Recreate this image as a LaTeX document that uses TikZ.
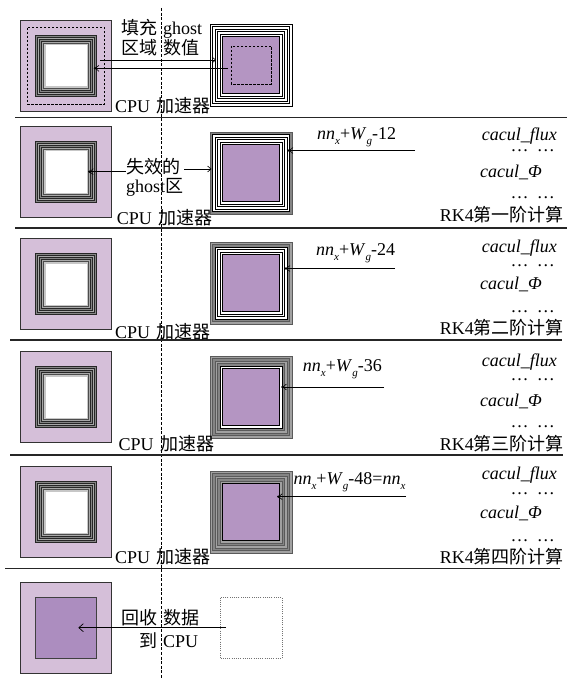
\documentclass[tikz,border=0pt]{standalone}
\usepackage{fontspec}
\setmainfont{Liberation Serif}
\newfontfamily\cjk{Noto Sans CJK SC}
\usetikzlibrary{arrows.meta}
\definecolor{cpupur}{HTML}{D5BFD9}
\definecolor{accpur}{HTML}{B495C2}
\definecolor{retpur}{HTML}{AC8DBF}
\definecolor{gdark}{HTML}{858585}
\definecolor{glight}{HTML}{A8A8A8}
\definecolor{gline}{HTML}{5A5A5A}
\tikzset{
  lbl/.style={inner sep=0pt, font=\fontsize{18}{20}\selectfont},
  dotlbl/.style={lbl, text height=2.5pt, text depth=0pt},
  panelline/.style={line width=1.3pt, black!85},
  cpubox/.style={fill=cpupur, draw=black!80, line width=0.8pt},
  ringA/.style={fill=gdark, draw=black!85, line width=0.5pt},
  ringB/.style={fill=glight, draw=black!85, line width=0.5pt},
  gringA/.style={fill=gdark, draw=gline, line width=0.4pt},
  gringB/.style={fill=glight!80!gdark, draw=gline, line width=0.4pt},
  wring/.style={fill=white, draw=black, line width=0.6pt},
  accbox/.style={fill=accpur, draw=black, line width=0.7pt},
  conn/.style={line width=0.6pt, black},
  openhead/.style={-{Straight Barb[length=3.5pt,width=6pt,line width=0.6pt]}},
  bighead/.style={-{Straight Barb[length=4.5pt,width=8pt,line width=0.7pt]}},
}
\newcommand\subx[1]{\raisebox{-5pt}{\fontsize{11}{11}\selectfont\textit{#1}}}
\newcommand\nnlab[1]{\textit{nn}\subx{x}+\textit{W}\subx{g}#1}
\newcommand\cpusq[1]{%
  \draw[cpubox] (20.5,#1-45.5) rectangle (111.5,#1+45.5);
  \foreach \h/\s in {30.5/ringA,28.5/ringB,26.5/ringA,24.5/ringB}{
    \draw[\s] (66-\h,#1-\h) rectangle (66+\h,#1+\h);}
  \draw[fill=black!22, draw=black!70, line width=0.4pt] (66-22.5,#1-22.5) rectangle (66+22.5,#1+22.5);
  \fill[white] (66-20.5,#1-20.5) rectangle (66+20.5,#1+20.5);
}
\newcommand\rkcol[7]{%
  \node[lbl,anchor=base east] (fx#7) at (557,#1) {\textit{cacul\_flux}};
  \node[dotlbl,anchor=base east] (da#7) at (555,#2) {…\hspace{0.45em}…};
  \node[lbl,anchor=base east] (ph#7) at (542,#3) {\textit{cacul\_Φ}};
  \node[dotlbl,anchor=base east] (db#7) at (555,#4) {…\hspace{0.45em}…};
  \node[lbl,anchor=base east] (rk#7) at (564,#5) {RK4{\cjk #6}};
}
\begin{document}
\begin{tikzpicture}[x=1pt,y=-1pt]
\useasboundingbox (0,0) rectangle (570,679);
\fill[white] (0,0) rectangle (570,679);

% vertical dashed divider
\coordinate (vt) at (161,8);
\coordinate (vb) at (161,679);
\draw[line width=0.8pt, dash pattern=on 3pt off 1.6pt] (vt) -- (vb);

% panel separators
\coordinate (s1a) at (15,117.5);  \coordinate (s1b) at (567,117.5);
\coordinate (s2a) at (15,228);    \coordinate (s2b) at (567,228);
\coordinate (s3a) at (10,340);    \coordinate (s3b) at (562,340);
\coordinate (s4a) at (10,455);    \coordinate (s4b) at (563,455);
\coordinate (s5a) at (5,568.5);   \coordinate (s5b) at (560,568.5);
\draw[panelline] (s1a) -- (s1b);
\draw[panelline] (s2a) -- (s2b);
\draw[panelline] (s3a) -- (s3b);
\draw[panelline] (s4a) -- (s4b);
\draw[panelline] (s5a) -- (s5b);

% ================= panel 1 =================
\cpusq{66}
\draw[line width=0.6pt, dash pattern=on 2.5pt off 1.5pt] (66-38.3,66-38.3) rectangle (66+38.3,66+38.3);
\begin{scope}[shift={(251,65)}]
  \foreach \h in {41,38.5,36,33.5,31}{\draw[wring] (-\h,-\h) rectangle (\h,\h);}
  \draw[accbox] (-28.5,-28.5) rectangle (28.5,28.5);
  \draw[line width=0.6pt, dash pattern=on 2.5pt off 1.5pt] (-20,-19) rectangle (20,19);
\end{scope}
\node[lbl,anchor=base east] (t1a) at (157.5,34.5) {\cjk 填充};
\node[lbl,anchor=base west] (t1b) at (163,34.5) {ghost};
\node[lbl,anchor=base east] (t1c) at (157.5,55) {\cjk 区域};
\node[lbl,anchor=base west] (t1d) at (163,55) {\cjk 数值};
\coordinate (a1s) at (100,60);   \coordinate (a1e) at (216,60);
\coordinate (a2s) at (228,68.3); \coordinate (a2e) at (95,68.3);
\draw[conn,openhead] (a1s) -- (a1e);
\draw[conn,openhead] (a2s) -- (a2e);
\fill (a2e) circle (1.3pt);
\node[lbl,anchor=base west] (cpu1) at (115,112.5) {CPU\hspace{6.5pt}{\cjk 加速器}};

% ================= panel 2 =================
\cpusq{172}
\begin{scope}[shift={(251,173)}]
  \draw[gringA] (-41,-41) rectangle (41,41);
  \foreach \h in {38.5,36,33.5,31}{\draw[wring] (-\h,-\h) rectangle (\h,\h);}
  \draw[accbox] (-28.5,-28.5) rectangle (28.5,28.5);
\end{scope}
\node[lbl,anchor=base west] (l2a) at (126,173) {\cjk 失效的};
\node[lbl,anchor=base west] (l2b) at (126,193) {ghost{\cjk 区}};
\coordinate (p2ls) at (125.5,171.7); \coordinate (p2le) at (89.3,171.7);
\coordinate (p2rs) at (184,169);     \coordinate (p2re) at (211.5,169);
\draw[conn,openhead] (p2ls) -- (p2le);
\fill (p2le) circle (1.3pt);
\draw[conn,openhead] (p2rs) -- (p2re);
\coordinate (n2s) at (415,150.5); \coordinate (n2e) at (289,150.5);
\draw[conn,openhead] (n2s) -- (n2e);
\fill (n2e) circle (1.3pt);
\node[lbl,anchor=base west] (nn2) at (317,140) {\nnlab{-12}};
\rkcol{140.3}{152}{178}{198.5}{221.5}{第一阶计算}{2}
\node[lbl,anchor=base west] (cpu2) at (116.7,224.5) {CPU\hspace{6.5pt}{\cjk 加速器}};

% ================= panel 3 =================
\cpusq{284}
\begin{scope}[shift={(251,283)}]
  \draw[gringB] (-41,-41) rectangle (41,41);
  \draw[gringA] (-38.5,-38.5) rectangle (38.5,38.5);
  \foreach \h in {36,33.5,31}{\draw[wring] (-\h,-\h) rectangle (\h,\h);}
  \draw[accbox] (-28.5,-28.5) rectangle (28.5,28.5);
\end{scope}
\coordinate (n3s) at (395,268.5); \coordinate (n3e) at (286,268.5);
\draw[conn,openhead] (n3s) -- (n3e);
\fill (n3e) circle (1.3pt);
\node[lbl,anchor=base west] (nn3) at (316,255) {\nnlab{-24}};
\rkcol{252.7}{266.3}{289.8}{312.5}{334.8}{第二阶计算}{3}
\node[lbl,anchor=base west] (cpu3) at (115,338) {CPU\hspace{6.5pt}{\cjk 加速器}};

% ================= panel 4 =================
\cpusq{397}
\begin{scope}[shift={(251,397)}]
  \draw[gringB] (-41,-41) rectangle (41,41);
  \draw[gringA] (-38.5,-38.5) rectangle (38.5,38.5);
  \draw[gringB] (-36,-36) rectangle (36,36);
  \draw[gringA] (-33.5,-33.5) rectangle (33.5,33.5);
  \draw[wring] (-31,-31) rectangle (31,31);
  \draw[accbox] (-28.5,-28.5) rectangle (28.5,28.5);
\end{scope}
\coordinate (n4s) at (384,387); \coordinate (n4e) at (282.5,387);
\draw[conn,openhead] (n4s) -- (n4e);
\fill (n4e) circle (1.3pt);
\node[lbl,anchor=base west] (nn4) at (302.7,371.7) {\nnlab{-36}};
\rkcol{366}{380.3}{406.5}{427.5}{450.5}{第三阶计算}{4}
\node[lbl,anchor=base west] (cpu4) at (118.3,450) {CPU\hspace{6.5pt}{\cjk 加速器}};

% ================= panel 5 =================
\cpusq{512}
\begin{scope}[shift={(251,512)}]
  \draw[gringB] (-41,-41) rectangle (41,41);
  \draw[gringA] (-38.5,-38.5) rectangle (38.5,38.5);
  \draw[gringB] (-36,-36) rectangle (36,36);
  \draw[gringA] (-33.5,-33.5) rectangle (33.5,33.5);
  \draw[gringB] (-31,-31) rectangle (31,31);
  \draw[accbox] (-28.5,-28.5) rectangle (28.5,28.5);
\end{scope}
\coordinate (n5s) at (406,496.7); \coordinate (n5e) at (278.3,496.7);
\draw[conn,openhead] (n5s) -- (n5e);
\fill (n5e) circle (1.3pt);
\node[lbl,anchor=base west] (nn5) at (293.3,484) {\nnlab{-48=}\textit{nn}\subx{x}};
\rkcol{479.3}{494.3}{518.2}{541.5}{563.2}{第四阶计算}{5}
\node[lbl,anchor=base west] (cpu5) at (115,563) {CPU\hspace{6.5pt}{\cjk 加速器}};

% ================= panel 6 =================
\draw[cpubox] (20.5,628-45.5) rectangle (111.5,628+45.5);
\draw[fill=retpur, draw=black!75, line width=0.7pt] (66-30.5,628-30.5) rectangle (66+30.5,628+30.5);
\draw[black!55, line width=0.7pt, dash pattern=on 1pt off 1.2pt] (251-31,628-30.5) rectangle (251+31,628+30.5);
\coordinate (b6s) at (226,627.7); \coordinate (b6e) at (78.3,627.7);
\draw[conn,bighead] (b6s) -- (b6e);
\node[lbl,anchor=base east] (t6a) at (157.5,624.5) {\cjk 回收};
\node[lbl,anchor=base west] (t6b) at (163,624.5) {\cjk 数据};
\node[lbl,anchor=base east] (t6c) at (157.5,647) {\cjk 到};
\node[lbl,anchor=base west] (t6d) at (163,647) {CPU};
\end{tikzpicture}
\end{document}
